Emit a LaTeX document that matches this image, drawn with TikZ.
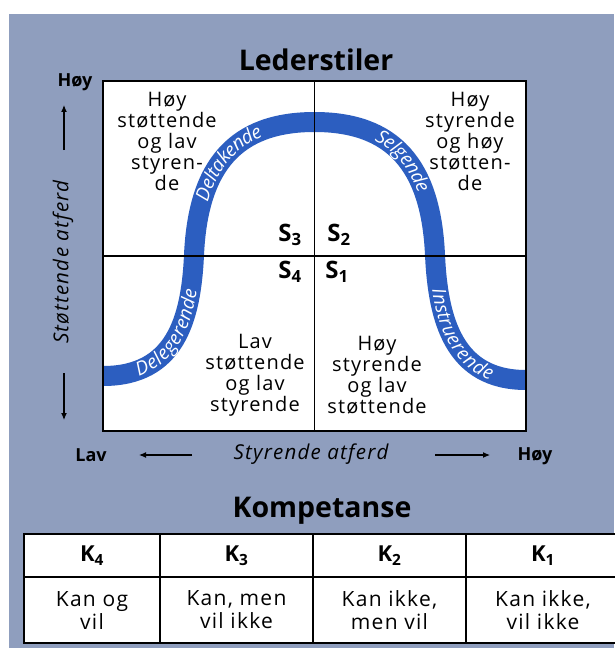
\documentclass[tikz,border=0pt]{standalone}
\usepackage{fontspec}
\setmainfont{Open Sans}
\newfontfamily\trackedfont{Open Sans}[LetterSpace=6]
\usetikzlibrary{decorations.text,arrows.meta}
\definecolor{bgblue}{RGB}{143,158,190}
\definecolor{bandblue}{RGB}{44,94,192}
\newcommand\qfont{\trackedfont\fontsize{20}{21}\selectfont}
\newcommand\lblfont{\fontsize{19}{19}\selectfont\itshape\color{white}}
\begin{document}
\begin{tikzpicture}[x=1pt,y=1pt,
  qtext/.style={align=center, font=\qfont, inner sep=0pt},
  heading/.style={font=\fontsize{28.5}{32}\selectfont\bfseries, inner sep=0pt},
  slabel/.style={font=\fontsize{24}{24}\selectfont\bfseries, inner sep=0pt},
  axlabel/.style={font=\fontsize{18}{18}\selectfont\bfseries, inner sep=0pt},
  axtitle/.style={font=\trackedfont\fontsize{20.5}{20.5}\selectfont\itshape, inner sep=0pt},
  axarrow/.style={line width=1.1pt, -{Latex[length=7pt,width=6pt]}},
  bandtext/.style={decorate, decoration={text along path, text align=center, raise=-6pt}},
  cell/.style={draw, line width=1.6pt, fill=white, inner sep=0pt, align=center},
  ktext/.style={font=\fontsize{22}{22}\selectfont\bfseries},
  ctext/.style={font=\trackedfont\fontsize{21}{23}\selectfont}]
\useasboundingbox (0,0) rectangle (614,-650);
\fill[white] (0,0) rectangle (614,-650);
\fill[bgblue] (9,-14) rectangle (614,-648);

% title
\node[heading] (title) at (316,-60) {Lederstiler};

% main box
\node[fill=white, minimum width=423pt, minimum height=350pt, inner sep=0pt] (box) at (314.5,-256) {};

% bell curve band
\draw[bandblue, line width=20pt]
  (103,-376) .. controls (175,-376) and (191,-320) .. (194,-255)
  .. controls (198,-165) and (236,-122) .. (314.5,-122)
  .. controls (393,-122) and (431,-165) .. (435,-255)
  .. controls (438,-320) and (454,-380) .. (526,-380);

\path[bandtext, decoration={text={|\lblfont|Delegerende}}]
  (103,-376) .. controls (175,-376) and (191,-320) .. (194,-255);
\path[bandtext, decoration={text={|\lblfont|Deltakende}}]
  (194,-255) .. controls (198,-165) and (236,-122) .. (314.5,-122);
\path[bandtext, decoration={text={|\lblfont|Selgende}}]
  (314.5,-122) .. controls (393,-122) and (431,-165) .. (435,-255);
\path[bandtext, decoration={text={|\lblfont|Instruerende}}]
  (435,-255) .. controls (438,-320) and (454,-380) .. (526,-380);

% dividers and border
\draw[line width=1.6pt] (box.north) -- (box.south);
\draw[line width=1.6pt] (box.west) -- (box.east);
\draw[line width=2pt] (box.south west) rectangle (box.north east);

% quadrant texts
\node[qtext] (tl) at (167,-141) {Høy\\støttende\\og lav\\styren-\\de};
\node[qtext] (tr) at (470,-141) {Høy\\styrende\\og høy\\støtten-\\de};
\node[qtext] (bl) at (255,-375) {Lav\\støttende\\og lav\\styrende};
\node[qtext] (br) at (377,-375) {Høy\\styrende\\og lav\\støttende};

% S labels
\node[slabel] (s3) at (290,-235) {S\textsubscript{3}};
\node[slabel] (s2) at (339,-235) {S\textsubscript{2}};
\node[slabel] (s4) at (290,-272) {S\textsubscript{4}};
\node[slabel] (s1) at (337,-272) {S\textsubscript{1}};

% vertical axis
\node[axlabel] (yhigh) at (75,-82) {Høy};
\coordinate (upA) at (64,-150);
\coordinate (upB) at (64,-105);
\draw[axarrow] (upA) -- (upB);
\node[axtitle, rotate=90] (ytitle) at (63,-262) {Støttende atferd};
\coordinate (dnA) at (64,-373);
\coordinate (dnB) at (64,-420);
\draw[axarrow] (dnA) -- (dnB);

% horizontal axis
\node[axlabel] (xlow) at (91,-455) {Lav};
\coordinate (lfA) at (192,-455);
\coordinate (lfB) at (139,-455);
\draw[axarrow] (lfA) -- (lfB);
\node[axtitle] (xtitle) at (311,-454) {Styrende atferd};
\coordinate (rtA) at (435,-455);
\coordinate (rtB) at (490,-455);
\draw[axarrow] (rtA) -- (rtB);
\node[axlabel] (xhigh) at (535,-456) {Høy};

% competence table
\node[heading] (komp) at (322,-511) {Kompetanse};
\node[cell, minimum width=136pt, minimum height=43pt, ktext] (k4) at (92,-555.5) {K\textsubscript{4}};
\node[cell, minimum width=153pt, minimum height=43pt, ktext] (k3) at (236.5,-555.5) {K\textsubscript{3}};
\node[cell, minimum width=153pt, minimum height=43pt, ktext] (k2) at (389.5,-555.5) {K\textsubscript{2}};
\node[cell, minimum width=154pt, minimum height=43pt, ktext] (k1) at (543,-555.5) {K\textsubscript{1}};
\node[cell, minimum width=136pt, minimum height=66pt, ctext] (c4) at (92,-610) {Kan og\\vil};
\node[cell, minimum width=153pt, minimum height=66pt, ctext] (c3) at (236.5,-610) {Kan, men\\vil ikke};
\node[cell, minimum width=153pt, minimum height=66pt, ctext] (c2) at (389.5,-610) {Kan ikke,\\men vil};
\node[cell, minimum width=154pt, minimum height=66pt, ctext] (c1) at (543,-610) {Kan ikke,\\vil ikke};
\end{tikzpicture}
\end{document}
